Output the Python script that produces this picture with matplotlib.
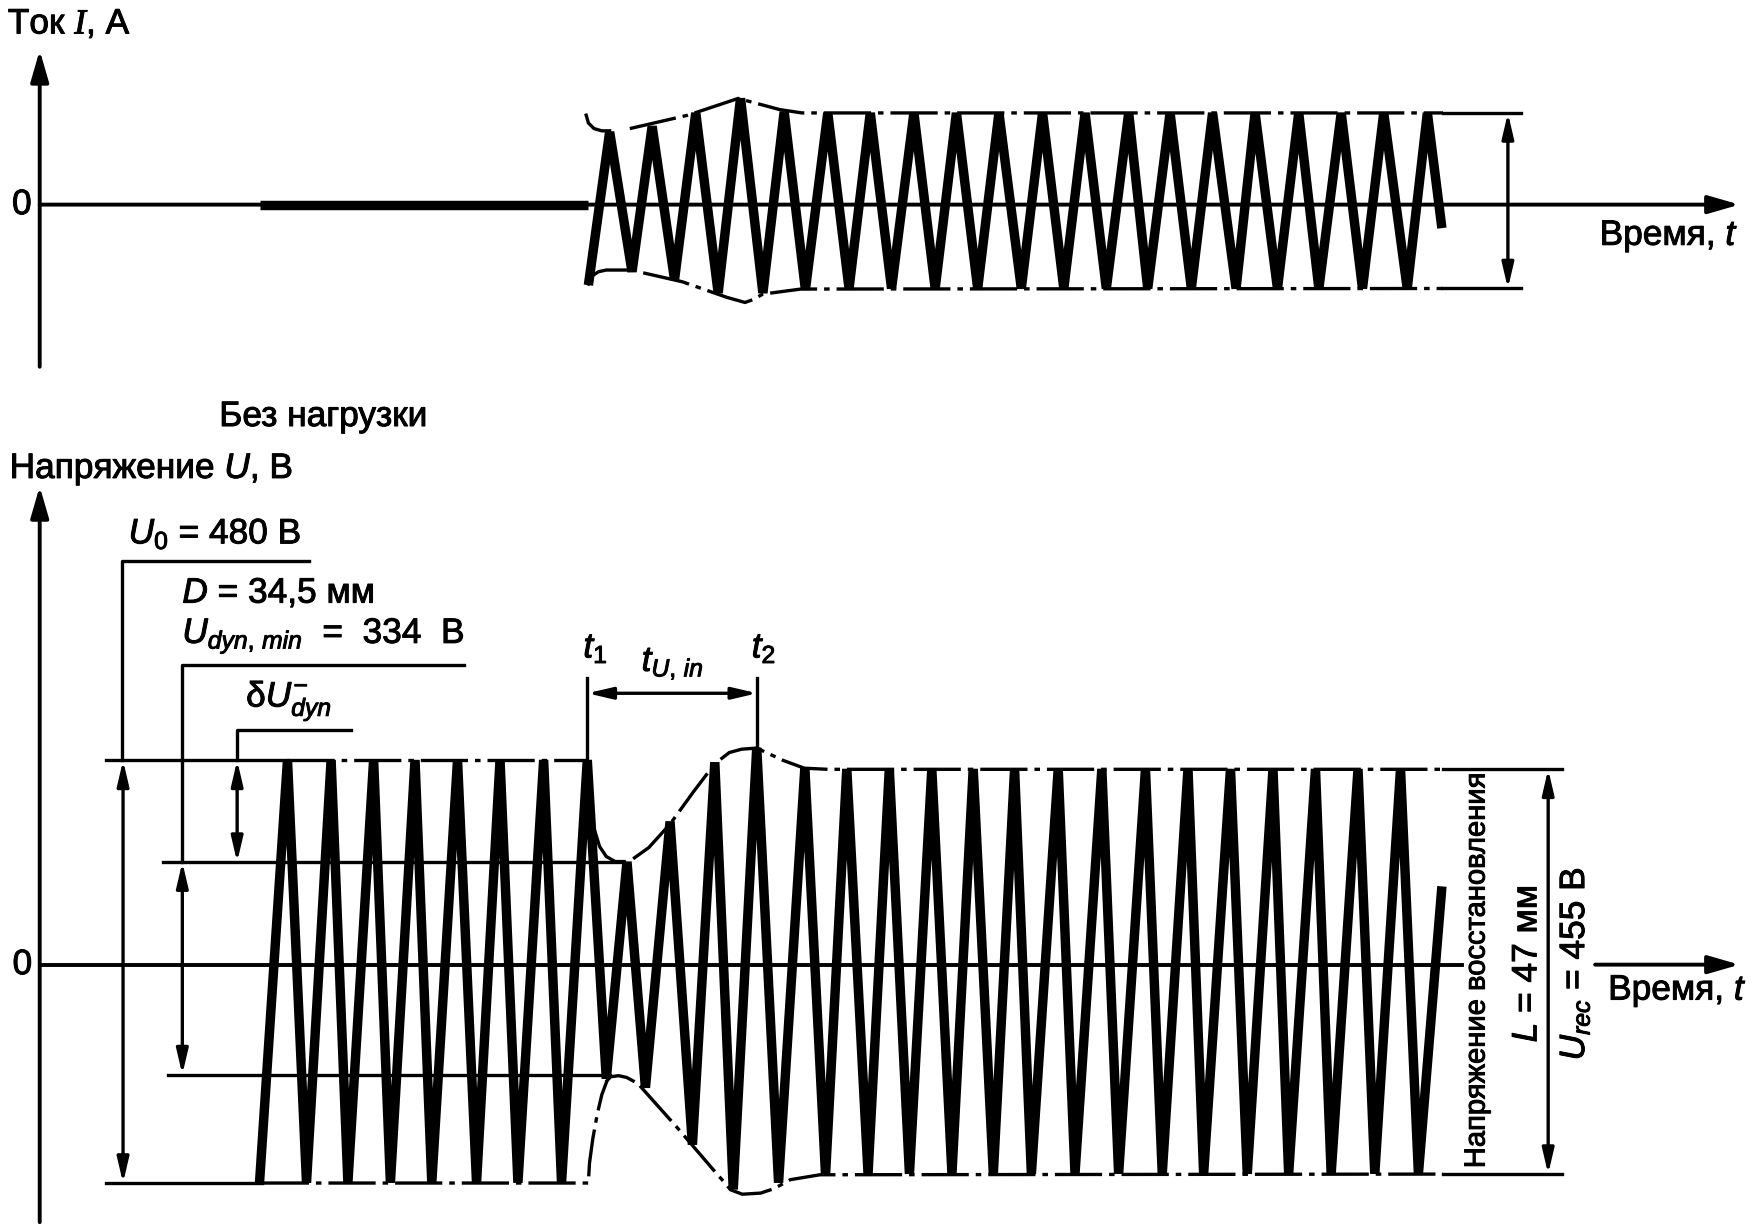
import matplotlib
matplotlib.use('Agg')
import matplotlib.pyplot as plt
import matplotlib.patheffects as pe
import numpy as np

plt.rcParams.update({
    'font.family': ['Liberation Sans', 'DejaVu Sans'],
    'mathtext.fontset': 'custom',
    'mathtext.rm': 'Liberation Sans',
    'mathtext.it': 'Liberation Sans:italic',
    'mathtext.bf': 'Liberation Sans:bold',
    'mathtext.cal': 'Liberation Serif:italic',
    'lines.scale_dashes': False,
})

# Drawing units: a 1568 x 1100 sheet, y grows downward.
# ---------- current I(t), upper diagram ----------
I_ZERO = 183
I_NOLOAD = [232, 526]
I_T = [526, 545, 565, 583, 603, 622, 642, 662, 682, 701, 720,
       740, 759, 778, 797, 817, 836, 855, 874, 893, 913, 932, 951, 970, 989,
       1009, 1026, 1046, 1065, 1084, 1105, 1122, 1142, 1161, 1179, 1199, 1218,
       1237, 1258, 1276, 1289]
I_A = [-72, 65, -60, 70, -67, 82, -79, 95, -79, 83, -76,
       82, -75, 82, -75, 82, -75, 82, -75, 82, -75, 82, -75, 82, -75,
       82, -75, 82, -75, 82, -75, 82, -75, 82, -75, 82, -75,
       82, -75, 82, -21]
# envelope of the current (solid start, then dash-dot)
I_ENV_TOP_ARC = [(524, 103), (526, 110), (531, 115), (538, 117), (545, 117)]
I_ENV_TOP = [(563, 115), (615, 103), (660, 88), (671, 91), (697, 98), (717, 101), (1290, 101)]
I_ENV_BOT_ARC = [(526, 254), (529, 247), (535, 243), (542, 241.5), (560, 241.5)]
I_ENV_BOT = [(575, 244), (610, 252), (630, 259), (650, 266), (666, 270.5), (673, 268),
             (682, 263), (716, 258.5), (1290, 258)]
I_DIM_X = 1348
I_DIM_END = 1360

# ---------- voltage U(t), lower diagram ----------
U_ZERO = 862.7
U_T = [232, 257, 274, 296, 311, 334, 349, 371, 386, 409, 426, 447, 463, 486, 502, 525,
       542, 560.5, 577, 599, 619, 639, 655.5, 676.5, 696, 719.5, 738,
       757, 776, 795, 813, 833, 851, 870, 888, 907, 922, 946, 961, 985, 1000,
       1024, 1039, 1062, 1076, 1100, 1115, 1138, 1152, 1176, 1190, 1214, 1229,
       1252, 1268, 1289]
U_A = [-195, 183, -195, 183, -195, 183, -195, 183, -195, 183, -195, 183, -195, 183, -195, 183,
       -102, 92, -110, 128, -161, 181, -201, 194, -195, 176, -188,
       175, -187, 175, -187, 175, -187, 175, -187, 175, -187, 175, -187, 175, -187,
       175, -187, 175, -187, 175, -187, 175, -187, 175, -187, 175, -187,
       175, -187, 70]
U0_LVL, ULOW_LVL = 680, 1058          # no-load peaks
UDYN_HI, UDYN_LO = 771, 961           # dynamic minimum
UREC_HI, UREC_LO = 688, 1050          # recovered peaks
T1_X, T2_X, T2_Y = 525, 677, 669
U_ENV_TOP_ARC = [(532, 744), (536, 757), (542, 766), (550, 770.5), (558, 770.5)]
U_ENV_TOP = [(566, 768), (580, 758), (599, 737), (620, 708), (639, 683), (652, 673),
             (663, 670), (676.5, 669), (700, 680), (719, 687), (740, 688), (1290, 688)]
U_ENV_BOT_L = [(234, 1058), (526, 1058), (526, 1057), (527, 1040), (530, 1018), (534, 996),
               (538, 979), (542.6, 966.6)]
U_ENV_BOT_ARC = [(542.6, 966.6), (545.6, 963), (553, 962), (560, 963.5), (566, 966.7)]
U_ENV_BOT = [(572, 971), (605, 1008), (641, 1050), (649, 1059), (653, 1064), (663.6, 1068),
             (680, 1067), (692, 1063), (706.5, 1055), (733, 1050.6), (1290, 1050)]
U_DIM_X = 1384
U_DIM_END = 1396

K = 'black'
LW_WAVE = 6.8
LW_AXIS = 2.8
LW_THIN = 2.4
DASHDOT = (0, (34, 5, 4, 5))
FS = 25.4
BOLDEN = [pe.withStroke(linewidth=0.7, foreground=K)]

fig = plt.figure(figsize=(17.54, 12.30), dpi=100)
ax = fig.add_axes([0, 0, 1, 1])
ax.set_xlim(0, 1568)
ax.set_ylim(1100, 0)
ax.axis('off')


def arrow(x0, y0, x1, y1, style='-|>', hl=19, hw=5.5, lw=LW_AXIS):
    ax.annotate('', xy=(x1, y1), xytext=(x0, y0),
                arrowprops=dict(arrowstyle=f'{style},head_length={hl},head_width={hw}',
                                mutation_scale=1, lw=lw, color=K,
                                shrinkA=0, shrinkB=0))


def dim(x0, y0, x1, y1):
    arrow(x0, y0, x1, y1, style='<|-|>', hl=15, hw=3.5, lw=LW_THIN)


def poly(pts, **kw):
    xs, ys = zip(*pts)
    ax.plot(xs, ys, color=K, **kw)


def label(x, y, s, **kw):
    kw.setdefault('fontsize', FS)
    kw.setdefault('ha', 'left')
    kw.setdefault('va', 'baseline')
    ax.text(x, y, s, path_effects=BOLDEN, **kw)


# ---------------- upper diagram ----------------
arrow(35.5, 328, 35.5, 45)
arrow(35.5, I_ZERO, 1555, I_ZERO)
ax.plot(I_NOLOAD, [I_ZERO, I_ZERO], color=K, lw=LW_WAVE, solid_capstyle='butt')
ax.plot(I_T, I_ZERO - np.array(I_A), color=K, lw=LW_WAVE,
        solid_joinstyle='bevel', solid_capstyle='butt')
poly(I_ENV_TOP_ARC, lw=LW_THIN)
poly(I_ENV_TOP, lw=LW_THIN, linestyle=DASHDOT)
poly(I_ENV_BOT_ARC, lw=LW_THIN)
poly(I_ENV_BOT, lw=LW_THIN, linestyle=DASHDOT)
top_i = I_ENV_TOP[-1][1]
bot_i = I_ENV_BOT[-1][1]
ax.plot([1290, I_DIM_END], [top_i, top_i], color=K, lw=LW_THIN)
ax.plot([1290, I_DIM_END], [bot_i, bot_i], color=K, lw=LW_THIN)
dim(I_DIM_X, top_i, I_DIM_X, bot_i)

label(7, 30, r'Ток $\mathcal{I}$, А')
label(19.5, I_ZERO, '0', ha='center', va='center')
label(1430, 219, r'Время, $t$')
label(196, 381, 'Без нагрузки')

# ---------------- lower diagram ----------------
arrow(35.5, 1093, 35.5, 435)
ax.plot([35.5, 1307], [U_ZERO, U_ZERO], color=K, lw=LW_AXIS)
arrow(1426, U_ZERO, 1555, U_ZERO)
label(20, U_ZERO, '0', ha='center', va='center')
label(8.6, 427.5, r'Напряжение $U$, В')
label(1437.6, 894, r'Время, $t$')

# level lines
ax.plot([95, 257], [U0_LVL, U0_LVL], color=K, lw=LW_THIN)
ax.plot([257, T1_X], [U0_LVL, U0_LVL], color=K, lw=LW_THIN, linestyle=DASHDOT)
ax.plot([95, 234], [ULOW_LVL, ULOW_LVL], color=K, lw=LW_THIN)
poly(U_ENV_BOT_L, lw=LW_THIN, linestyle=DASHDOT)
poly(U_ENV_BOT_ARC, lw=LW_THIN)
poly(U_ENV_BOT, lw=LW_THIN, linestyle=DASHDOT)
poly(U_ENV_TOP_ARC, lw=LW_THIN)
poly(U_ENV_TOP, lw=LW_THIN, linestyle=DASHDOT)
ax.plot([146, 558], [UDYN_HI, UDYN_HI], color=K, lw=LW_THIN)
ax.plot([150, 545], [UDYN_LO, UDYN_LO], color=K, lw=LW_THIN)
ax.plot([1290, U_DIM_END], [UREC_HI, UREC_HI], color=K, lw=LW_THIN)
ax.plot([1290, U_DIM_END], [UREC_LO, UREC_LO], color=K, lw=LW_THIN)

# waveform
ax.plot(U_T, U_ZERO - np.array(U_A), color=K, lw=LW_WAVE,
        solid_joinstyle='bevel', solid_capstyle='butt')

# leaders and dimension arrows on the left
ax.plot([276.5, 109.5, 109.5], [501.5, 501.5, U0_LVL], color=K, lw=LW_THIN)
dim(110, U0_LVL, 110, ULOW_LVL)
ax.plot([414.6, 163, 163], [594.6, 594.6, UDYN_HI], color=K, lw=LW_THIN)
dim(163, UDYN_HI, 163, UDYN_LO)
ax.plot([314, 212, 212], [653, 653, U0_LVL], color=K, lw=LW_THIN)
dim(212, U0_LVL, 212, UDYN_HI)

label(115, 486, r'$U_0$ = 480 В')
label(163, 539, r'$D$ = 34,5 мм')
label(163, 575, r'$U_{dyn,\,min}$  =  334  В')
label(220, 632, r'δ$U^{-}_{dyn}$')

# t1 / t2 marks
ax.plot([T1_X, T1_X], [606, U0_LVL], color=K, lw=LW_THIN)
ax.plot([T2_X, T2_X], [606, T2_Y], color=K, lw=LW_THIN)
dim(T1_X, 620, T2_X, 620)
label(521.5, 588, r'$t_1$')
label(573.6, 600, r'$t_{U,\,in}$')
label(672, 588, r'$t_2$')

# right-hand recovery dimension
dim(U_DIM_X, UREC_HI, U_DIM_X, UREC_LO)
label(1320, 868, 'Напряжение восстановления', fontsize=21, rotation=90,
      ha='center', va='center')
label(1365, 862, r'$L$ = 47 мм', rotation=90, ha='center', va='center')
label(1408, 862, r'$U_{rec}$ = 455 В', rotation=90, ha='center', va='center')

fig.savefig('out.png', dpi=100, facecolor='white')
